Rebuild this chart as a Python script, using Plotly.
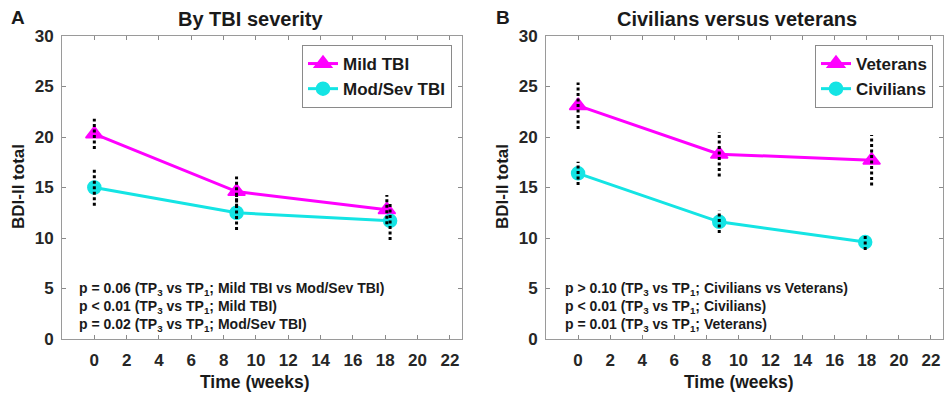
import plotly.graph_objects as go

# ---- data ----
weeks_mild = [0, 8.8, 18.1]
mild = [20.3, 14.6, 12.8]
mild_err = [1.5, 1.5, 1.45]

weeks_mod = [0, 8.8, 18.3]
modsev = [15.0, 12.5, 11.7]
modsev_err = [1.8, 1.7, 1.9]

weeks_vet = [0, 8.8, 18.3]
veterans = [23.1, 18.3, 17.7]
vet_err = [2.3, 2.2, 2.5]

weeks_civ = [0, 8.8, 17.9]
civilians = [16.4, 11.6, 9.6]
civ_err = [1.15, 1.1, 0.8]

x_ticks = list(range(0, 23, 2))
y_ticks = [0, 5, 10, 15, 20, 25, 30]

notes_a = [
    "p = 0.06 (TP<sub>3</sub> vs TP<sub>1</sub>; Mild TBI vs Mod/Sev TBI)",
    "p < 0.01 (TP<sub>3</sub> vs TP<sub>1</sub>; Mild TBI)",
    "p = 0.02 (TP<sub>3</sub> vs TP<sub>1</sub>; Mod/Sev TBI)",
]
notes_b = [
    "p > 0.10 (TP<sub>3</sub> vs TP<sub>1</sub>; Civilians vs Veterans)",
    "p < 0.01 (TP<sub>3</sub> vs TP<sub>1</sub>; Civilians)",
    "p = 0.01 (TP<sub>3</sub> vs TP<sub>1</sub>; Veterans)",
]

MAG = "#FF00FF"
CYN = "#14E4E4"
FONT = "Liberation Sans"
W, H = 944, 398


def err_xy(xs, ys, es):
    ex, ey = [], []
    for x, y, e in zip(xs, ys, es):
        ex += [x, x, None]
        ey += [y - e, y + e, None]
    return ex, ey


fig = go.Figure()


def add_series(xs, ys, name, color, symbol, size, xa, ya, legend):
    fig.add_trace(go.Scatter(
        x=xs, y=ys, name=name, mode="lines+markers",
        line=dict(color=color, width=3),
        marker=dict(symbol=symbol, size=size, color=color,
                    line=dict(color=color, width=1.5)),
        xaxis=xa, yaxis=ya, legend=legend))


def add_err(xs, ys, es, xa, ya):
    ex, ey = err_xy(xs, ys, es)
    fig.add_trace(go.Scatter(
        x=ex, y=ey, mode="lines", showlegend=False, hoverinfo="skip",
        line=dict(color="black", width=3, dash="3px,2.5px"),
        xaxis=xa, yaxis=ya))


add_series(weeks_mild, mild, "Mild TBI", MAG, "triangle-up", 15, "x", "y", "legend")
add_series(weeks_mod, modsev, "Mod/Sev TBI", CYN, "circle", 13, "x", "y", "legend")
add_err(weeks_mild, mild, mild_err, "x", "y")
add_err(weeks_mod, modsev, modsev_err, "x", "y")

add_series(weeks_vet, veterans, "Veterans", MAG, "triangle-up", 15, "x2", "y2", "legend2")
add_series(weeks_civ, civilians, "Civilians", CYN, "circle", 13, "x2", "y2", "legend2")
add_err(weeks_vet, veterans, vet_err, "x2", "y2")
add_err(weeks_civ, civilians, civ_err, "x2", "y2")

tickfont = dict(family=FONT, size=17, color="#262626", weight="bold")
xcommon = dict(range=[-2, 22.75], tickvals=x_ticks, ticks="inside", ticklen=4,
               tickcolor="#8a8a8a", showline=True, linecolor="#9a9a9a", linewidth=1,
               mirror="ticks", showgrid=False, zeroline=False, tickfont=tickfont,
               ticklabelstandoff=6, automargin=False)
ycommon = dict(range=[0, 30], tickvals=y_ticks, ticks="inside", ticklen=4,
               tickcolor="#8a8a8a", showline=True, linecolor="#9a9a9a", linewidth=1,
               mirror="ticks", showgrid=False, zeroline=False, tickfont=tickfont,
               ticklabelstandoff=4, automargin=False)

ydom = [(H - 339) / H, (H - 36) / H]
legfont = dict(family=FONT, size=17, color="#1a1a1a", weight="bold")
fig.update_layout(
    width=W, height=H, margin=dict(l=0, r=0, t=0, b=0, autoexpand=False),
    paper_bgcolor="white", plot_bgcolor="white",
    xaxis=dict(domain=[62 / W, 462 / W], anchor="y", **xcommon),
    yaxis=dict(domain=ydom, anchor="x", **ycommon),
    xaxis2=dict(domain=[546 / W, 943 / W], anchor="y2", **xcommon),
    yaxis2=dict(domain=ydom, anchor="x2", **ycommon),
    legend=dict(x=452 / W, y=(H - 45) / H, xanchor="right", yanchor="top",
                bordercolor="#8a8a8a", borderwidth=1, bgcolor="white",
                font=legfont, itemwidth=30, tracegroupgap=0),
    legend2=dict(x=933 / W, y=(H - 45) / H, xanchor="right", yanchor="top",
                 bordercolor="#8a8a8a", borderwidth=1, bgcolor="white",
                 font=legfont, itemwidth=30, tracegroupgap=0),
    showlegend=True,
)

anns = []


def bold(sz):
    return dict(family=FONT, size=sz, color="#1a1a1a", weight="bold")


# panel letters and titles
anns.append(dict(text="A", x=18 / W, y=(H - 17) / H, xref="paper", yref="paper",
                 showarrow=False, font=bold(19), xanchor="center", yanchor="middle"))
anns.append(dict(text="B", x=503 / W, y=(H - 17) / H, xref="paper", yref="paper",
                 showarrow=False, font=bold(19), xanchor="center", yanchor="middle"))
anns.append(dict(text="By TBI severity", x=250 / W, y=(H - 19) / H, xref="paper", yref="paper",
                 showarrow=False, font=bold(20), xanchor="center", yanchor="middle"))
anns.append(dict(text="Civilians versus veterans", x=737 / W, y=(H - 19) / H, xref="paper",
                 yref="paper", showarrow=False, font=bold(20), xanchor="center",
                 yanchor="middle"))
# axis titles
for xc, yc in [(18, 187), (502, 187)]:
    anns.append(dict(text="BDI-II total", x=xc / W, y=(H - yc) / H, xref="paper", yref="paper",
                     showarrow=False, textangle=-90, font=bold(17),
                     xanchor="center", yanchor="middle"))
for xc in [255, 739]:
    anns.append(dict(text="Time (weeks)", x=xc / W, y=(H - 382) / H, xref="paper", yref="paper",
                     showarrow=False, font=bold(17.5), xanchor="center", yanchor="middle"))
# p-value notes
for notes, xr, yr, x0 in [(notes_a, "x", "y", -1.05), (notes_b, "x2", "y2", -0.92)]:
    for i, t in enumerate(notes):
        anns.append(dict(text=t, x=x0, y=4.95 - 1.78 * i, xref=xr, yref=yr, showarrow=False,
                         font=bold(14), xanchor="left", yanchor="middle"))
fig.update_layout(annotations=anns)

fig.write_html("out.html", config={"displayModeBar": False},
               post_script="document.body.style.margin='0';document.body.style.overflow='hidden';")
